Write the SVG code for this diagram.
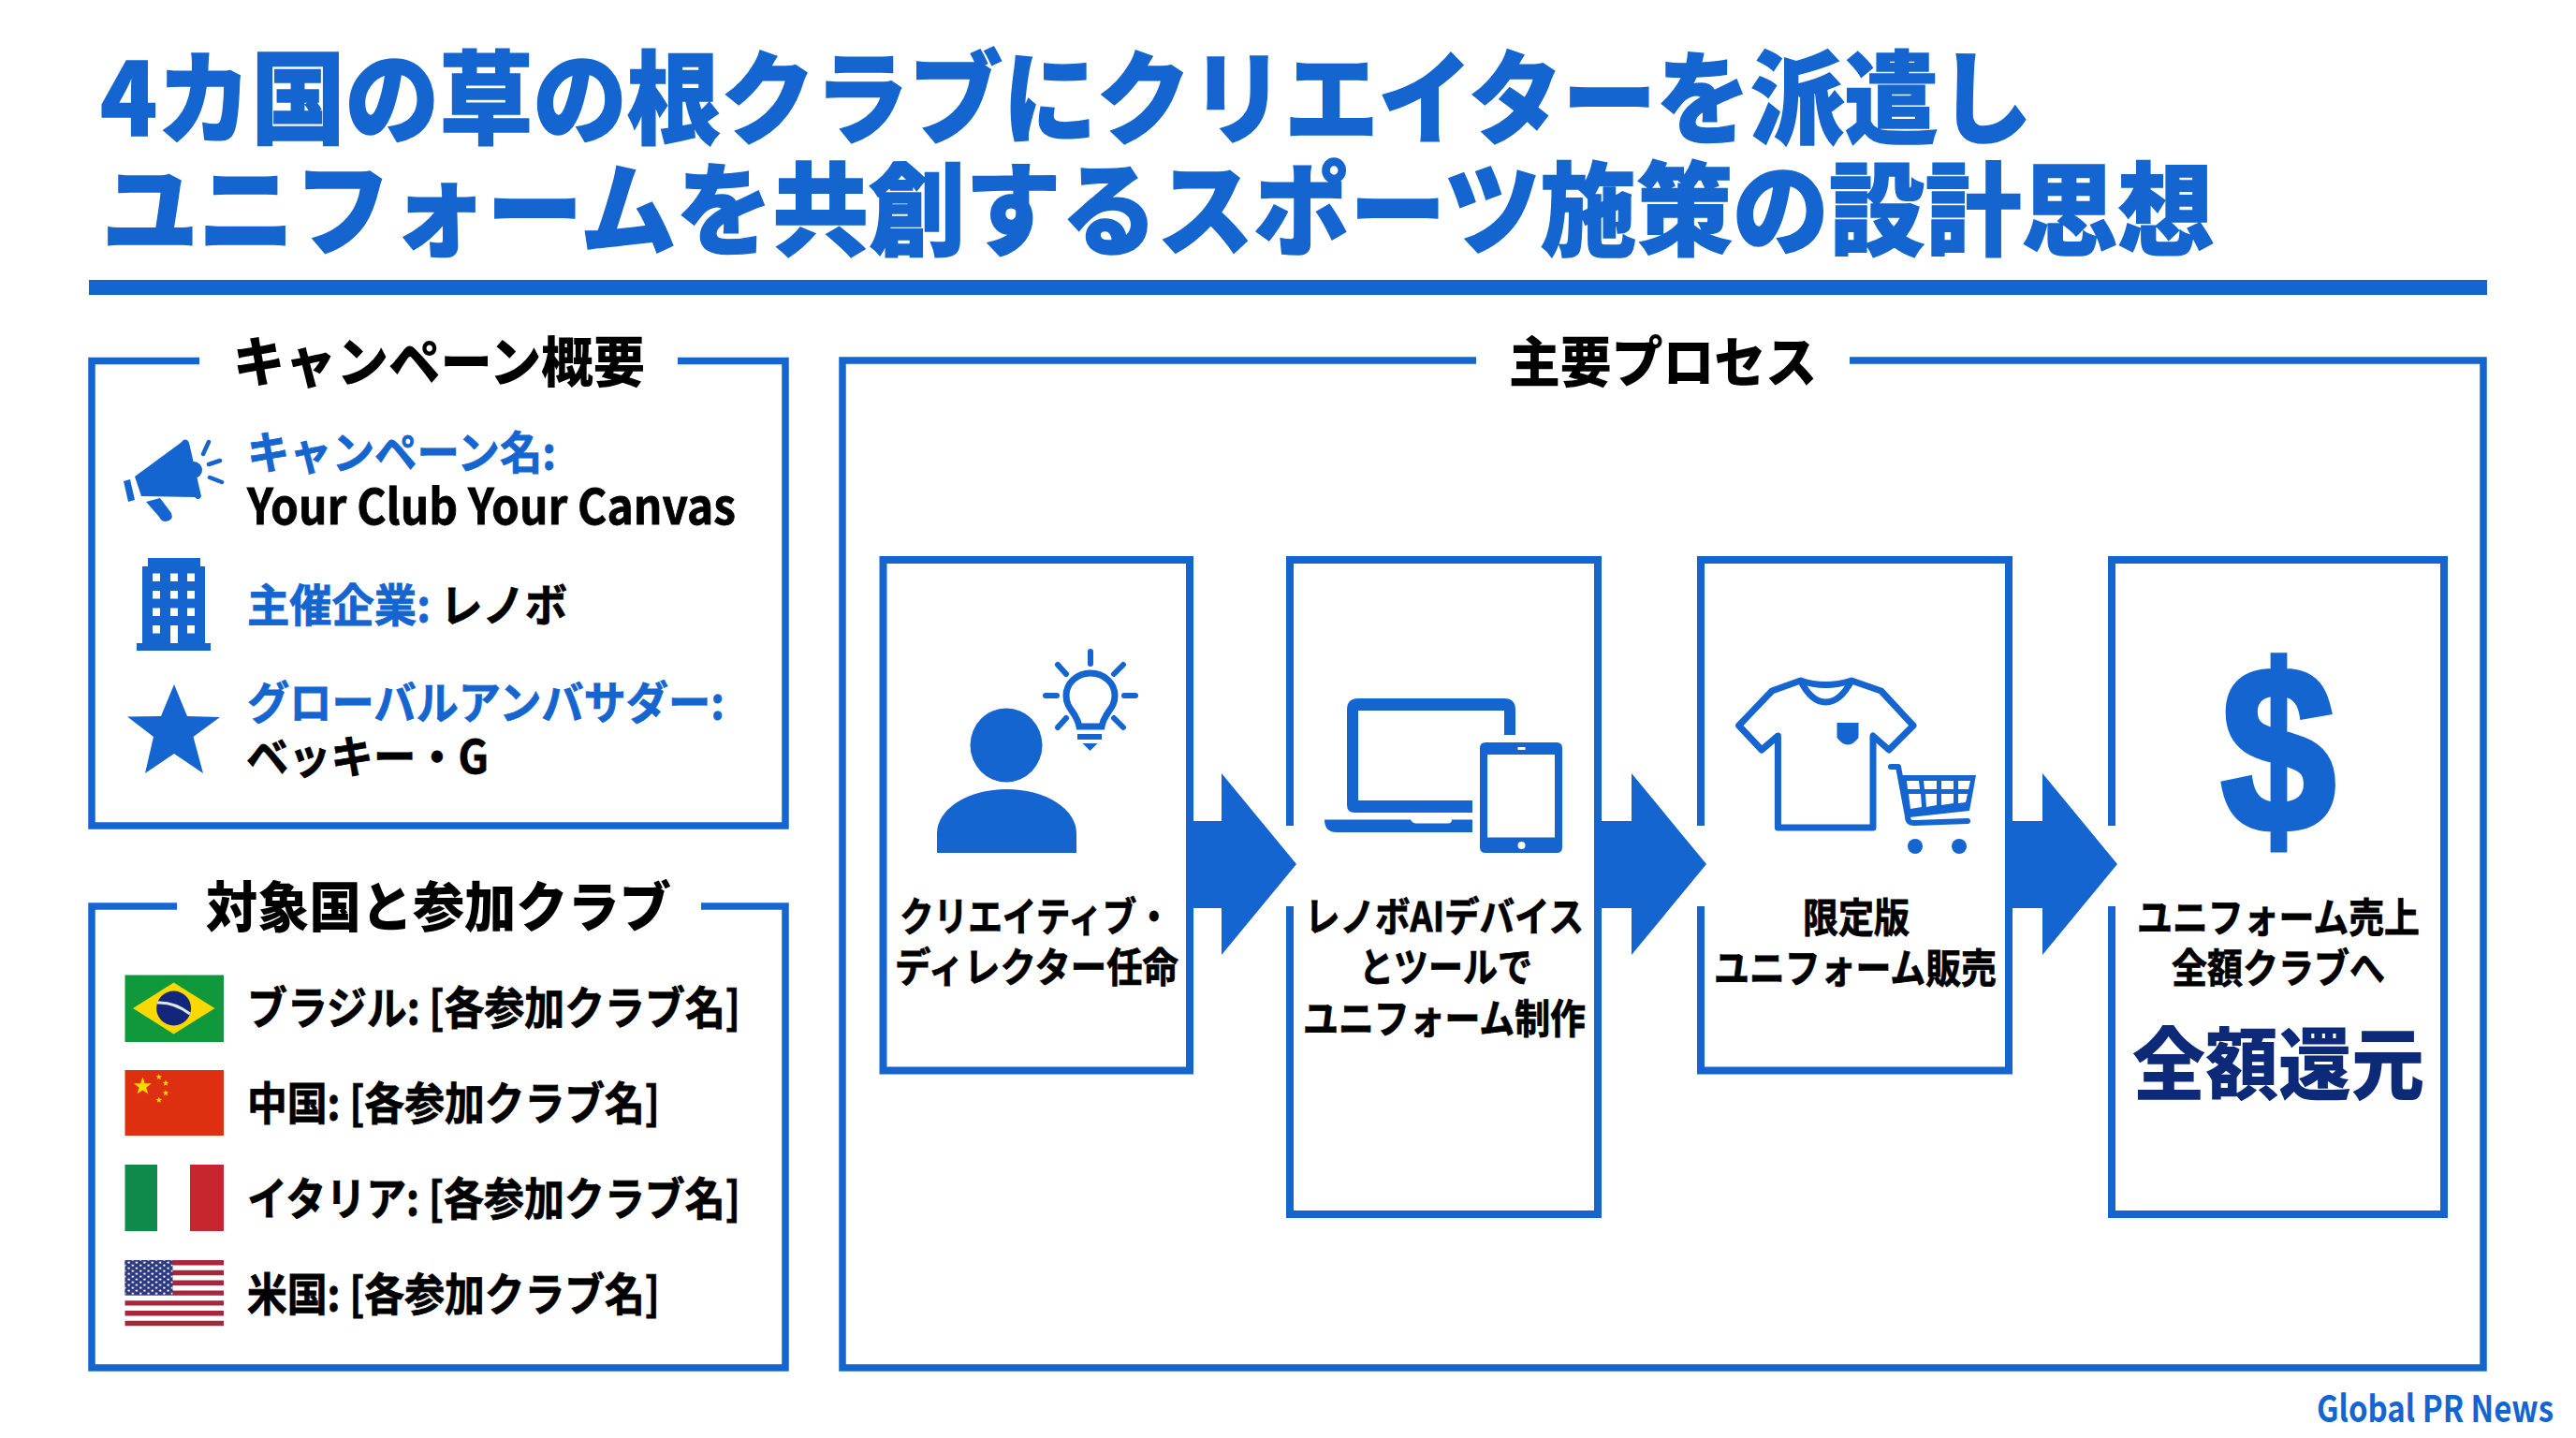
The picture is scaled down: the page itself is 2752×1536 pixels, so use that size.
<svg xmlns="http://www.w3.org/2000/svg" width="2752" height="1536" viewBox="0 0 2752 1536">
<style>
text{font-family:"Noto Sans CJK JP","Noto Sans",sans-serif;font-weight:700;fill:#000}
.ttl{font-size:108px;font-weight:900;fill:#1565d0;stroke:#1565d0;stroke-width:1.5}
.hd{font-size:58px;font-weight:900}
.row{font-size:48px;stroke:currentColor;stroke-width:.8}
.st{font-size:43px;stroke:#000;stroke-width:.8}
.box{fill:#fff;stroke:#1565d0;stroke-width:8}
.f{fill:#1565d0}
.blue{color:#1565d0;fill:#1565d0}
</style>
<defs>
<polygon id="star" points="0,-1 0.235,-0.324 0.951,-0.309 0.38,0.124 0.588,0.809 0,0.4 -0.588,0.809 -0.38,0.124 -0.951,-0.309 -0.235,-0.324"/>
<pattern id="usstars" x="135" y="1347" width="8.4" height="6" patternUnits="userSpaceOnUse"><circle cx="2.6" cy="1.6" r="1.2" fill="#fff"/><circle cx="6.8" cy="4.6" r="1.2" fill="#fff"/></pattern>
</defs>
<rect width="2752" height="1536" fill="#fff"/>
<g id="title">
<text class="ttl" x="107" y="145" textLength="2064" lengthAdjust="spacingAndGlyphs">4カ国の草の根クラブにクリエイターを派遣し</text>
<text class="ttl" x="109" y="264" textLength="2256" lengthAdjust="spacingAndGlyphs">ユニフォームを共創するスポーツ施策の設計思想</text>
<rect x="95" y="299" width="2562" height="16" class="f"/>
</g>
<g id="panel-overview">
<path d="M213 385.500H98V882H839V385.500H724" fill="none" stroke="#1565d0" stroke-width="7.500"/>
<text class="hd" x="249" y="408" textLength="440" lengthAdjust="spacingAndGlyphs">キャンペーン概要</text>
<g id="icon-megaphone">
<path class="f" d="M144 509L193 473L196 470Q200 468 202 473L215 530Q213 536 208 531L151 530Z"/>
<path class="f" d="M132 514L139 512L144 534L137 536Z"/>
<path class="f" d="M156 536L171 532L183 548Q186 556 177 557Q172 557 170 552Z"/>
<circle class="f" cx="207" cy="502" r="9"/>
<path d="M223 472L217 485M235 492L223 496M224 510L237 515" fill="none" stroke="#1565d0" stroke-width="4.500" stroke-linecap="round"/>
</g>
<text class="row blue" x="264" y="501" textLength="330" lengthAdjust="spacingAndGlyphs">キャンペーン名:</text>
<text class="row" x="264" y="560" style="font-size:52px" textLength="522" lengthAdjust="spacingAndGlyphs">Your Club Your Canvas</text>
<g id="icon-building">
<path class="f" d="M158 596H214V605H219V687H225V695H146V687H152V605H158Z"/>
<path fill="#fff" d="M163 612.500h8v8.500h-8zM182 612.500h8v8.500h-8zM200 612.500h8v8.500h-8zM163 631h8v8.500h-8zM182 631h8v8.500h-8zM200 631h8v8.500h-8zM163 649.500h8v8.500h-8zM182 649.500h8v8.500h-8zM200 649.500h8v8.500h-8zM163 668h8v8.500h-8zM200 668h8v8.500h-8zM182 668h8v19h-8z"/>
</g>
<text class="row" x="264" y="664" textLength="342" lengthAdjust="spacingAndGlyphs"><tspan class="blue">主催企業:</tspan> レノボ</text>
<polygon id="icon-star" class="f" points="186,731 200,765 235,766 206.500,787 217,826 186,805 155,826 164,787 136,765.500 172,765"/>
<text class="row blue" x="264" y="768" textLength="510" lengthAdjust="spacingAndGlyphs">グローバルアンバサダー:</text>
<text class="row" x="263" y="826" textLength="259" lengthAdjust="spacingAndGlyphs">ベッキー・G</text>
</g>
<g id="panel-countries">
<path d="M189 968H98V1461H839V968H749" fill="none" stroke="#1565d0" stroke-width="7.500"/>
<text class="hd" x="220" y="990" textLength="497" lengthAdjust="spacingAndGlyphs">対象国と参加クラブ</text>
<g id="flag-brazil">
<rect x="133.500" y="1041.500" width="105.500" height="71.500" fill="#0f993c"/>
<polygon points="142,1077 185.600,1049.500 229.500,1077 185.600,1104.600" fill="#fbd800"/>
<ellipse cx="185.600" cy="1077" rx="18.500" ry="18.500" fill="#12277c"/>
<path d="M168 1071Q186 1070 203 1083" fill="none" stroke="#dfe6f0" stroke-width="3"/>
</g>
<text class="row" x="264" y="1094" textLength="527" lengthAdjust="spacingAndGlyphs">ブラジル: [各参加クラブ名]</text>
<g id="flag-china">
<rect x="133.500" y="1143" width="105.500" height="70" fill="#de2f10"/>
<use href="#star" transform="translate(152.400 1160.400) scale(10)" fill="#fbd800"/>
<use href="#star" transform="translate(169.800 1150.400) scale(3.500)" fill="#fbd800"/>
<use href="#star" transform="translate(177 1157) scale(3.500)" fill="#fbd800"/>
<use href="#star" transform="translate(177 1167.600) scale(3.500)" fill="#fbd800"/>
<use href="#star" transform="translate(169.800 1175) scale(3.500)" fill="#fbd800"/>
</g>
<text class="row" x="264" y="1196" textLength="441" lengthAdjust="spacingAndGlyphs">中国: [各参加クラブ名]</text>
<g id="flag-italy">
<rect x="133.500" y="1244" width="34.500" height="71" fill="#0f8a4a"/>
<rect x="203" y="1244" width="36" height="71" fill="#c8262f"/>
</g>
<text class="row" x="264" y="1298" textLength="527" lengthAdjust="spacingAndGlyphs">イタリア: [各参加クラブ名]</text>
<g id="flag-usa">
<path d="M133.500 1346h105.500v5.400h-105.500zM133.500 1356.800h105.500v5.400h-105.500zM133.500 1367.600h105.500v5.400h-105.500zM133.500 1378.400h105.500v5.400h-105.500zM133.500 1389.200h105.500v5.400h-105.500zM133.500 1400h105.500v5.400h-105.500zM133.500 1410.800h105.500v5.400h-105.500z" fill="#a8263c"/>
<rect x="133.500" y="1346" width="51" height="37" fill="#2d3a80"/>
<rect x="133.500" y="1346" width="51" height="37" fill="url(#usstars)"/>
</g>
<text class="row" x="264" y="1400" textLength="441" lengthAdjust="spacingAndGlyphs">米国: [各参加クラブ名]</text>
</g>
<g id="panel-process">
<path d="M1577 385H900V1461H2653V385H1976" fill="none" stroke="#1565d0" stroke-width="7.500"/>
<text class="hd" x="1612" y="408" textLength="329" lengthAdjust="spacingAndGlyphs">主要プロセス</text>
</g>
<g id="step-1">
<rect class="box" x="943.500" y="598" width="327.500" height="545.500"/>
<ellipse class="f" cx="1075" cy="796" rx="38.500" ry="39.500"/>
<path class="f" d="M1001 911V890A74.500 47 0 0 1 1150 890V911Z"/>
<path d="M1153 776C1150 760 1139 758 1139 743A26 24 0 1 1 1191 743C1191 758 1180 760 1177 776Z" fill="none" stroke="#1565d0" stroke-width="7"/>
<path class="f" d="M1151 784H1177V790H1151ZM1156.500 794H1172.500L1164.500 802Z"/>
<path d="M1165 696V709M1130 710L1139 720M1200 710L1190 720M1117 743H1129M1201 743H1213M1130 777L1139 767M1200 777L1190 767" fill="none" stroke="#1565d0" stroke-width="6" stroke-linecap="round"/>
<text class="st" x="961" y="995" textLength="290" lengthAdjust="spacingAndGlyphs">クリエイティブ・</text>
<text class="st" x="956" y="1049" textLength="303" lengthAdjust="spacingAndGlyphs">ディレクター任命</text>
</g>
<g id="step-2">
<rect class="box" x="1378" y="598" width="329" height="699"/>
<path class="f" d="M1439 758Q1439 746 1451 746H1607Q1619 746 1619 758V785H1607V759H1451V855H1573V868H1447Q1439 868 1439 860Z"/>
<path class="f" d="M1415 875.500H1507Q1509 879.500 1513 879.500H1547Q1551 879.500 1551 875.500H1573V889H1428Q1415 889 1415 875.500Z"/>
<path class="f" fill-rule="evenodd" d="M1587 793H1663Q1669 793 1669 799V905Q1669 911 1663 911H1587Q1581 911 1581 905V799Q1581 793 1587 793ZM1589 806V894.500H1661V806ZM1621.500 798V801H1629.500V798ZM1625.500 899A4 4 0 1 0 1625.500 907A4 4 0 1 0 1625.500 899Z"/>
<text class="st" x="1394" y="995" textLength="298" lengthAdjust="spacingAndGlyphs">レノボAIデバイス</text>
<text class="st" x="1452" y="1049" textLength="185" lengthAdjust="spacingAndGlyphs">とツールで</text>
<text class="st" x="1392" y="1104" textLength="302" lengthAdjust="spacingAndGlyphs">ユニフォーム制作</text>
</g>
<g id="step-3">
<rect class="box" x="1817" y="598" width="329" height="545.500"/>
<path d="M1923.500 727Q1950 736 1978 727L2009.600 738L2044 775L2018 801L2001 786V884H1899.400V786L1882 801L1857.600 775L1893 738Z" fill="#fff" stroke="#1565d0" stroke-width="7" stroke-linejoin="round"/>
<path d="M1923.500 727Q1935 750 1950.500 750Q1966 750 1978 727" fill="none" stroke="#1565d0" stroke-width="7"/>
<path class="f" d="M1962.500 772H1985.500V788Q1974 803 1962.500 788Z"/>
<g id="icon-cart">
<path d="M2020 819H2028L2038 872Q2038 880 2046 879L2102 877" fill="none" stroke="#1565d0" stroke-width="6" stroke-linecap="round" stroke-linejoin="round"/>
<path class="f" d="M2031 828H2111L2104 866L2040 873Z"/>
<path fill="#fff" d="M2037 834H2050L2051 843H2038ZM2055 834H2069V843H2056ZM2074 834H2087V843H2074ZM2092 834H2105L2103 843H2092ZM2039 848H2052L2053 862L2041 864ZM2057 848H2069V860L2058 862ZM2074 848H2087V858L2074 860ZM2092 848H2102L2100 857L2092 858Z"/>
<circle class="f" cx="2046" cy="904" r="8"/>
<circle class="f" cx="2093" cy="904" r="8"/>
</g>
<text class="st" x="1926" y="996" textLength="114" lengthAdjust="spacingAndGlyphs">限定版</text>
<text class="st" x="1831" y="1050" textLength="302" lengthAdjust="spacingAndGlyphs">ユニフォーム販売</text>
</g>
<g id="step-4">
<rect class="box" x="2256" y="598" width="355" height="699"/>
<text x="2373" y="888" textLength="122" lengthAdjust="spacingAndGlyphs" style="font-family:'Liberation Sans',sans-serif;font-weight:700;font-size:252px;fill:#1565d0;stroke:#1565d0;stroke-width:7">$</text>
<text class="st" x="2283" y="996" textLength="302" lengthAdjust="spacingAndGlyphs">ユニフォーム売上</text>
<text class="st" x="2320" y="1050" textLength="228" lengthAdjust="spacingAndGlyphs">全額クラブへ</text>
<text x="2278" y="1168" textLength="312" lengthAdjust="spacingAndGlyphs" style="font-size:84px;font-weight:900;fill:#0d2a78">全額還元</text>
</g>
<g id="connectors">
<rect x="1368" y="882" width="20" height="86" fill="#fff"/>
<rect x="1807" y="882" width="20" height="86" fill="#fff"/>
<rect x="2246" y="882" width="20" height="86" fill="#fff"/>
<polygon class="f" points="1271,877 1305,877 1305,826 1385,923 1305,1020 1305,970 1271,970"/>
<polygon class="f" points="1707,877 1743,877 1743,826 1823,923 1743,1020 1743,970 1707,970"/>
<polygon class="f" points="2146,877 2182,877 2182,826 2262,923 2182,1020 2182,970 2146,970"/>
</g>
<g id="footer">
<text x="2475" y="1519" textLength="253" lengthAdjust="spacingAndGlyphs" style="font-size:39px;fill:#1565d0">Global PR News</text>
</g>
</svg>
